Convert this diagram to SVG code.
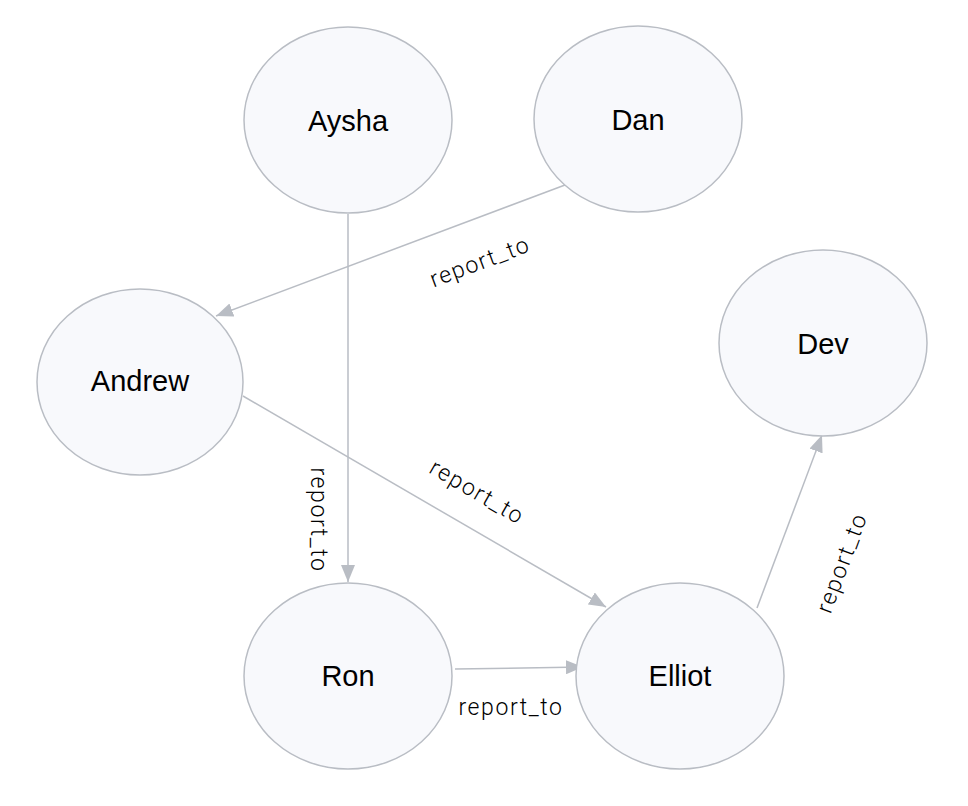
<svg xmlns="http://www.w3.org/2000/svg" width="968" height="806" viewBox="0 0 968 806">
<style>
.node ellipse{fill:#f8f9fc;stroke:#b9bdc4;stroke-width:1.5}
.node text{font-family:"Liberation Sans",Arial,sans-serif;font-size:29px;fill:#000;text-anchor:middle;dominant-baseline:central}
.edge{stroke:#b9bdc4;stroke-width:1.5;fill:none;marker-end:url(#arr)}
.lbl{font-family:Roboto,"Liberation Sans",sans-serif;font-weight:300;font-size:23px;letter-spacing:1.6px;fill:#000;text-anchor:middle;dominant-baseline:central}
</style>
<defs>
<marker id="arr" markerUnits="userSpaceOnUse" markerWidth="18" markerHeight="14" refX="17" refY="7" orient="auto">
<path d="M0,0 L17,7 L0,14 z" fill="#b9bdc4"/>
</marker>
</defs>
<rect width="968" height="806" fill="#fff"/>
<g id="edges">
<path class="edge" d="M348,214 L348,582"/>
<path class="edge" d="M565,185 L216,316"/>
<path class="edge" d="M243,396 L606,607"/>
<path class="edge" d="M455,669 L583,667"/>
<path class="edge" d="M757,608 L822,435"/>
<text class="lbl" transform="translate(318,520) rotate(90)">report_to</text>
<text class="lbl" transform="translate(480,262) rotate(-20.6)">report_to</text>
<text class="lbl" transform="translate(477,492) rotate(30.2)">report_to</text>
<text class="lbl" transform="translate(511,707)">report_to</text>
<text class="lbl" transform="translate(842,563) rotate(-69.4)">report_to</text>
</g>
<g id="node-aysha" class="node"><ellipse cx="348" cy="120" rx="104" ry="93"/><text x="348" y="121">Aysha</text></g>
<g id="node-dan" class="node"><ellipse cx="638" cy="119" rx="104" ry="93"/><text x="638" y="120">Dan</text></g>
<g id="node-andrew" class="node"><ellipse cx="140" cy="382" rx="103" ry="93"/><text x="140" y="381">Andrew</text></g>
<g id="node-dev" class="node"><ellipse cx="823" cy="343" rx="104" ry="93"/><text x="823" y="344">Dev</text></g>
<g id="node-ron" class="node"><ellipse cx="348" cy="676" rx="104" ry="93"/><text x="348" y="676">Ron</text></g>
<g id="node-elliot" class="node"><ellipse cx="680" cy="676" rx="104" ry="93"/><text x="680" y="676">Elliot</text></g>
</svg>
